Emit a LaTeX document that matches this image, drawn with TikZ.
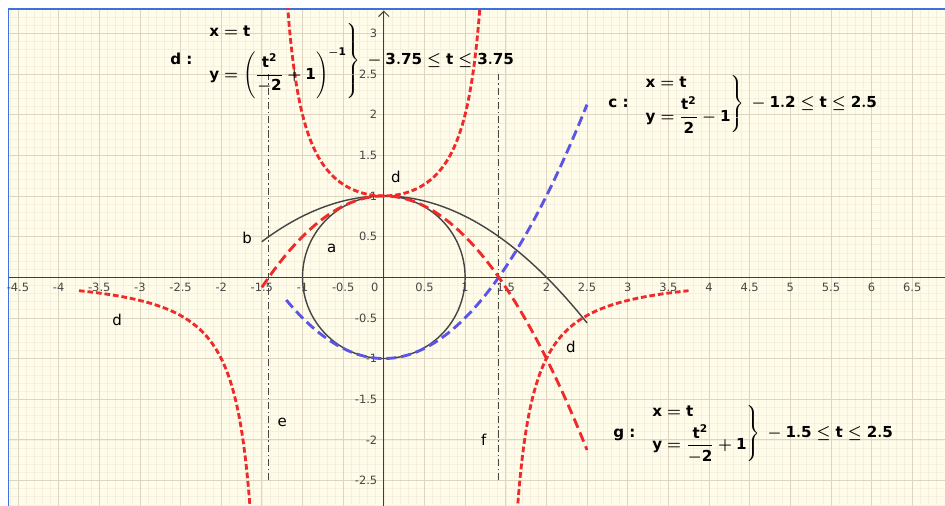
\documentclass[tikz,border=0pt]{standalone}
\usepackage{amsmath}
\usepackage{fontspec}
\setsansfont{DejaVu Sans}
\usetikzlibrary{arrows.meta}
\definecolor{fondoHoja}{HTML}{FFFDEA}
\definecolor{rejillaMayor}{HTML}{DDD5C2}
\definecolor{rejillaMenor}{HTML}{F4EFDE}
\definecolor{marcoAzul}{HTML}{3F72D8}
\definecolor{rojoCurva}{HTML}{EE2A2A}
\definecolor{azulCurva}{HTML}{5A55E6}
\definecolor{grisCurva}{HTML}{454545}
\tikzset{
  eje/.style={draw=grisCurva!90!black, line width=0.7pt},
  numEje/.style={font=\fontsize{8}{9}\sffamily, text=grisCurva, inner sep=1pt},
  etiqueta/.style={font=\fontsize{10.5}{12}\sffamily, text=black, inner sep=0pt},
  formula/.style={font=\fontsize{10.6}{13}\sffamily\bfseries\boldmath, text=black,
    inner sep=0pt, anchor=west},
  curvaGris/.style={draw=grisCurva, line width=1pt},
  curvaD/.style={draw=rojoCurva, line width=2pt, dash pattern=on 4pt off 2pt},
  curvaG/.style={draw=rojoCurva, line width=2pt, dash pattern=on 7pt off 3.5pt},
  curvaC/.style={draw=azulCurva, line width=2pt, dash pattern=on 7pt off 3.5pt},
  asintota/.style={draw=grisCurva, line width=0.9pt,
    dash pattern=on 5pt off 2pt on 1pt off 2pt},
}

\begin{document}
\begin{tikzpicture}[x=2cm, y=2cm]
  \useasboundingbox (-4.721,-2.814) rectangle (6.903,3.410);
  \fill[white] (-4.721,-2.814) rectangle (6.903,3.410);
  \fill[fondoHoja] (-4.616,-2.814) rectangle (6.903,3.303);
  \draw[rejillaMenor, line width=0.35pt, step=0.1] (-4.616,-2.814) grid (6.903,3.303);
  \draw[rejillaMayor, line width=0.5pt, step=0.5] (-4.616,-2.814) grid (6.903,3.303);
  \draw[marcoAzul, line width=1.3pt] (-4.616,-2.814) -- (-4.616,3.303) -- (6.903,3.303);

  \draw[eje] (-4.616,0) -- (6.903,0);
  \draw[eje, -{Straight Barb[length=1.3mm, width=2.6mm]}] (0,-2.814) -- (0,3.28);
  \foreach \v [count=\i] in {-4.5,-4,-3.5,-3,-2.5,-2,-1.5,-1,-0.5,0.5,1,1.5,2,2.5,3,3.5,4,4.5,5,5.5,6,6.5}
    \node[numEje, anchor=north] (ejeX\i) at (\v,-0.05) {\v};
  \foreach \v [count=\i] in {3,2.5,2,1.5,1,0.5,-0.5,-1,-1.5,-2,-2.5}
    \node[numEje, anchor=east] (ejeY\i) at (-0.06,\v) {\v};
  \node[numEje] (origen) at (-0.11,-0.12) {0};

  \begin{scope}
    \clip (-4.616,-2.814) rectangle (6.903,3.303);
    \draw[curvaGris] (0,0) circle[radius=1];
    \draw[curvaGris] plot[domain=-1.5:2.5, samples=60, smooth] (\x, {1-\x*\x/4});
    \draw[asintota] (-1.4142,-2.5) -- (-1.4142,2.5);
    \draw[asintota] (1.4142,-2.5) -- (1.4142,2.5);
    \draw[curvaC] plot[domain=-1.2:2.5, samples=60, smooth] (\x, {\x*\x/2-1});
    \draw[curvaG] plot[domain=-1.5:2.5, samples=60, smooth] (\x, {1-\x*\x/2});
    \draw[curvaD] plot[domain=-3.75:-1.62, samples=80, smooth] (\x, {1/(1-\x*\x/2)});
    \draw[curvaD] plot[domain=-1.2:1.2, samples=80, smooth] (\x, {1/(1-\x*\x/2)});
    \draw[curvaD] plot[domain=1.62:3.75, samples=80, smooth] (\x, {1/(1-\x*\x/2)});
  \end{scope}

  \node[etiqueta] (labA) at (-0.64,0.35) {a};
  \node[etiqueta] (labB) at (-1.68,0.48) {b};
  \node[etiqueta] (labD1) at (0.15,1.24) {d};
  \node[etiqueta] (labD2) at (-3.28,-0.53) {d};
  \node[etiqueta] (labD3) at (2.30,-0.86) {d};
  \node[etiqueta] (labE) at (-1.25,-1.78) {e};
  \node[etiqueta] (labF) at (1.23,-2.00) {f};

  \node[formula] (formD) at (-2.63,2.66) {d :\quad$\left.\begin{array}{@{}l@{}}
      \mathsf{x=t}\\[4pt]
      \mathsf{y=\left(\dfrac{t^2}{-2}+1\right)^{-1}}
    \end{array}\right\}\,-\mathsf{3.75\leq t\leq 3.75}$};
  \node[formula] (formC) at (2.76,2.13) {c :\quad$\left.\begin{array}{@{}l@{}}
      \mathsf{x=t}\\[2pt]
      \mathsf{y=\dfrac{t^2}{2}-1}
    \end{array}\right\}\,-\mathsf{1.2\leq t\leq 2.5}$};
  \node[formula] (formG) at (2.82,-1.92) {g :\quad$\left.\begin{array}{@{}l@{}}
      \mathsf{x=t}\\[2pt]
      \mathsf{y=\dfrac{t^2}{-2}+1}
    \end{array}\right\}\,-\mathsf{1.5\leq t\leq 2.5}$};
\end{tikzpicture}
\end{document}
